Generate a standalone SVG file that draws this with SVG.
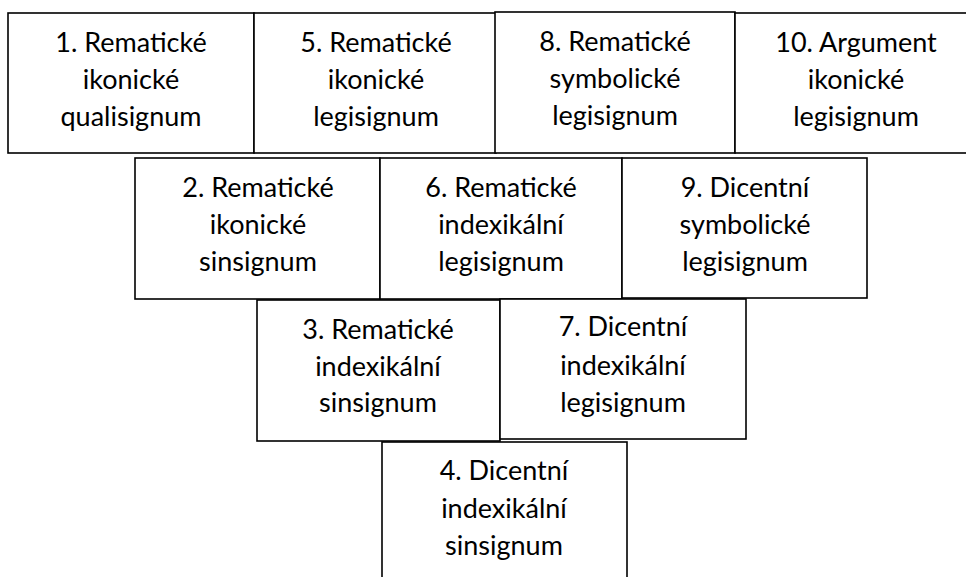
<svg xmlns="http://www.w3.org/2000/svg" width="966" height="577" viewBox="0 0 966 577">
<style>
.box{fill:#fff;stroke:#000;stroke-width:1.6}
.t{font-family:Lato,"Open Sans","Liberation Sans",sans-serif;font-size:27px;fill:#000;text-anchor:middle}
</style>
<rect width="966" height="577" fill="#fff"/>
<g id="n1"><rect class="box" x="8" y="13" width="246" height="140"/>
<text class="t" x="131" y="52">1. Rematické</text><text class="t" x="131" y="89">ikonické</text><text class="t" x="131" y="126">qualisignum</text></g>
<g id="n5"><rect class="box" x="254" y="13" width="242" height="140"/>
<text class="t" x="376" y="52">5. Rematické</text><text class="t" x="376" y="89">ikonické</text><text class="t" x="376" y="126">legisignum</text></g>
<g id="n8"><rect class="box" x="495" y="12" width="240" height="141"/>
<text class="t" x="615" y="51">8. Rematické</text><text class="t" x="615" y="88">symbolické</text><text class="t" x="615" y="125">legisignum</text></g>
<g id="n10"><rect class="box" x="735" y="13" width="240" height="140"/>
<text class="t" x="856" y="52">10. Argument</text><text class="t" x="856" y="89">ikonické</text><text class="t" x="856" y="126">legisignum</text></g>
<g id="n2"><rect class="box" x="135" y="158" width="245" height="141"/>
<text class="t" x="258" y="197">2. Rematické</text><text class="t" x="258" y="234">ikonické</text><text class="t" x="258" y="271">sinsignum</text></g>
<g id="n6"><rect class="box" x="380" y="158" width="242" height="141"/>
<text class="t" x="501" y="197">6. Rematické</text><text class="t" x="501" y="234">indexikální</text><text class="t" x="501" y="271">legisignum</text></g>
<g id="n9"><rect class="box" x="622" y="158" width="245" height="140"/>
<text class="t" x="745" y="197">9. Dicentní</text><text class="t" x="745" y="234">symbolické</text><text class="t" x="745" y="271">legisignum</text></g>
<g id="n3"><rect class="box" x="257" y="300" width="243" height="141"/>
<text class="t" x="378" y="339">3. Rematické</text><text class="t" x="378" y="376">indexikální</text><text class="t" x="378" y="412">sinsignum</text></g>
<g id="n7"><rect class="box" x="500" y="299" width="246" height="140"/>
<text class="t" x="623" y="336">7. Dicentní</text><text class="t" x="623" y="375">indexikální</text><text class="t" x="623" y="412">legisignum</text></g>
<g id="n4"><rect class="box" x="382" y="442" width="245" height="160"/>
<text class="t" x="504" y="480">4. Dicentní</text><text class="t" x="504" y="518">indexikální</text><text class="t" x="504" y="555">sinsignum</text></g>
<g id="connectors"></g>
</svg>
